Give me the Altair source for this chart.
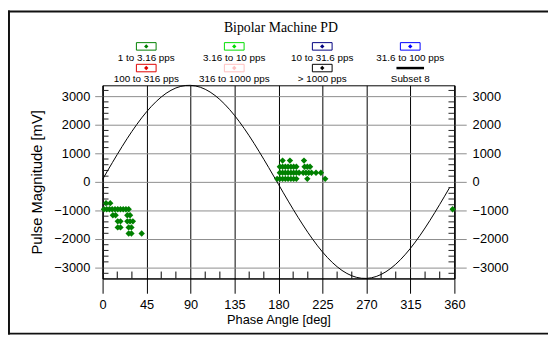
import altair as alt
import pandas as pd

# ---------------- data ----------------
title_text = ["Bipolar Machine PD"]

x_ticks = [0, 45, 90, 135, 180, 225, 270, 315, 360]
y_ticks = [-3000, -2000, -1000, 0, 1000, 2000, 3000]
x_minor = [15, 30, 60, 75, 105, 120, 150, 165, 195, 210, 240, 255, 285, 300, 330, 345]
y_minor = [-3200, -2800, -2600, -2400, -2200, -1800, -1600, -1400, -1200, -800, -600, -400, -200,
           200, 400, 600, 800, 1200, 1400, 1600, 1800, 2200, 2400, 2600, 2800, 3200]

# reference voltage curve
sine_phase = [0, 5, 10, 15, 20, 25, 30, 35, 40, 45, 50, 55, 60, 65, 70, 75, 80, 85,
              90, 95, 100, 105, 110, 115, 120, 125, 130, 135, 140, 145, 150, 155, 160, 165, 170, 175,
              180, 185, 190, 195, 200, 205, 210, 215, 220, 225, 230, 235, 240, 245, 250, 255, 260, 265,
              270, 275, 280, 285, 290, 295, 300, 305, 310, 315, 320, 325, 330, 335, 340, 345, 350, 355]
sine_mv = [88, 383, 674, 960, 1239, 1508, 1766, 2010, 2240, 2452, 2645, 2819, 2970, 3100, 3205, 3287, 3343, 3374,
           3379, 3358, 3312, 3241, 3145, 3025, 2882, 2717, 2531, 2327, 2104, 1866, 1613, 1348, 1072, 789, 500, 206,
           -88, -383, -674, -960, -1239, -1508, -1766, -2010, -2240, -2452, -2645, -2819, -2970, -3100, -3205, -3287, -3343, -3374,
           -3379, -3358, -3312, -3241, -3145, -3025, -2882, -2717, -2531, -2327, -2104, -1866, -1613, -1348, -1072, -789, -500, -206]

# PD pulses (1 to 3.16 pps)
pd_phase = [3.5, 7.8,
            1.4, 4.2, 7.0, 9.8, 12.7, 15.5, 18.3, 21.1, 23.9, 26.7,
            10.5, 13.3, 25.3, 28.1,
            15.5, 18.3, 25.3, 28.1, 31.0,
            15.5, 18.3, 26.7, 29.5,
            26.7, 29.5, 40.0,
            358.2,
            184.2, 191.7, 206.1,
            181.4, 184.2, 187.0, 189.8, 192.7, 195.5, 198.3, 206.7, 209.5, 212.3,
            181.4, 184.2, 187.0, 189.8, 192.7, 195.5, 198.3, 201.1, 205.3, 208.1, 210.9, 213.8, 218.4, 223.4,
            178.6, 181.4, 184.2, 187.0, 189.8, 192.7, 195.5, 198.3, 209.5, 227.8]
pd_mag = [-744, -744,
          -956, -956, -956, -956, -956, -956, -956, -956, -956, -956,
          -1169, -1169, -1169, -1169,
          -1381, -1381, -1381, -1381, -1381,
          -1594, -1594, -1594, -1594,
          -1806, -1806, -1806,
          -956,
          744, 744, 744,
          531, 531, 531, 531, 531, 531, 531, 531, 531, 531,
          319, 319, 319, 319, 319, 319, 319, 319, 319, 319, 319, 319, 319, 319,
          106, 106, 106, 106, 106, 106, 106, 106, 106, 106]

leg_labels = ["1 to 3.16 pps", "3.16 to 10 pps", "10 to 31.6 pps", "31.6 to 100 pps",
              "100 to 316 pps", "316 to 1000 pps", "> 1000 pps", "Subset 8"]
leg_colors = ["#008000", "#00dd00", "#000080", "#0000ff",
              "#e00000", "#ffc0c0", "#000000", "#000000"]

# ---------------- layout ----------------
W, H = 357, 196
FONT = "Liberation Sans"
x_scale = alt.Scale(domain=[0, 360], nice=False, zero=False)
y_scale = alt.Scale(domain=[-3380, 3380], nice=False, zero=False)

x_axis = alt.Axis(values=x_ticks, grid=True, gridColor="black", gridWidth=1,
                  tickSize=15, tickColor="black", domainColor="black", format="d",
                  labelPadding=5, title="Phase Angle [deg]", titlePadding=3,
                  labelFlush=False, labelOverlap=False)
left_axis = alt.Axis(values=y_ticks, grid=True, gridColor="#8c8c8c", gridWidth=1,
                     tickSize=8, tickColor="#8c8c8c", domainColor="black", format="d",
                     labelPadding=5, title="Pulse Magnitude [mV]", titlePadding=9,
                     titleFontSize=15, labelFlush=False, labelOverlap=False)
right_axis = alt.Axis(orient="right", values=y_ticks, grid=False, format="d",
                      tickSize=12, tickColor="#8c8c8c", domainColor="black",
                      labelPadding=6, title=None, labelFlush=False, labelOverlap=False)

pts = pd.DataFrame({"phase": pd_phase, "mag": pd_mag})
sine = pd.DataFrame({"phase": sine_phase, "mag": sine_mv})
ymin = pd.DataFrame({"v": y_minor})
xmin = pd.DataFrame({"p": x_minor})

leg = pd.DataFrame({"label": leg_labels, "color": leg_colors})
leg["i"] = range(len(leg))
leg["cx"] = 44.3 + (leg["i"] % 4) * 89.3
leg["sy"] = -39.5 + (leg["i"] // 4) * 22
leg["ly"] = -27.3 + (leg["i"] // 4) * 21
leg["x1"] = leg["cx"] - 10
leg["x2"] = leg["cx"] + 10
leg["y1"] = leg["sy"] - 3.8
leg["y2"] = leg["sy"] + 3.8
leg["lx1"] = leg["cx"] - 14
leg["lx2"] = leg["cx"] + 14
leg_sym = leg[leg["i"] < 7]
leg_line = leg[leg["i"] == 7]

left_minor = alt.Chart(ymin).mark_rule(color="#222222").encode(
    y=alt.Y("v:Q", scale=y_scale, axis=None),
    x=alt.value(0), x2=alt.value(6))
right_minor = alt.Chart(ymin).mark_rule(color="#222222").encode(
    y=alt.Y("v:Q", scale=y_scale, axis=right_axis),
    x=alt.value(W - 6), x2=alt.value(W))
bottom_minor = alt.Chart(xmin).mark_rule(color="black").encode(
    x=alt.X("p:Q", scale=x_scale, axis=x_axis),
    y=alt.value(H - 7), y2=alt.value(H))

sine_line = alt.Chart(sine).mark_line(color="black", strokeWidth=1).encode(
    x=alt.X("phase:Q", scale=x_scale, axis=x_axis),
    y=alt.Y("mag:Q", scale=y_scale, axis=None))

points = alt.Chart(pts).mark_point(shape="diamond", filled=True, size=42,
                                   color="#008000", opacity=1).encode(
    x=alt.X("phase:Q", scale=x_scale, axis=x_axis),
    y=alt.Y("mag:Q", scale=y_scale, axis=left_axis))

leg_box = alt.Chart(leg_sym).mark_rect(fill="white", strokeWidth=1).encode(
    x=alt.X("x1:Q", scale=None, axis=None), x2="x2:Q",
    y=alt.Y("y1:Q", scale=None, axis=None), y2="y2:Q",
    stroke=alt.Color("color:N", scale=None, legend=None))
leg_dot = alt.Chart(leg_sym).mark_point(shape="diamond", filled=True, size=20, opacity=1).encode(
    x=alt.X("cx:Q", scale=None, axis=None),
    y=alt.Y("sy:Q", scale=None, axis=None),
    color=alt.Color("color:N", scale=None, legend=None))
leg_ln = alt.Chart(leg_line).mark_rule(color="black", strokeWidth=2.5).encode(
    x=alt.X("lx1:Q", scale=None, axis=None), x2="lx2:Q",
    y=alt.Y("sy:Q", scale=None, axis=None))
leg_txt = alt.Chart(leg).mark_text(font=FONT, fontSize=10, color="black",
                                   align="center", baseline="middle").encode(
    x=alt.X("cx:Q", scale=None, axis=None),
    y=alt.Y("ly:Q", scale=None, axis=None),
    text="label:N")

title = alt.Chart(pd.DataFrame({"t": title_text})).mark_text(
    font="Liberation Serif", fontSize=14, color="black", align="center", baseline="middle").encode(
    x=alt.value(W / 2 + 2.5), y=alt.value(-58), text="t:N")

border_top = alt.Chart(pd.DataFrame({"t": title_text})).mark_rule(color="#111111", strokeWidth=2).encode(
    x=alt.value(-96), x2=alt.value(452), y=alt.value(-75))
border_bottom = alt.Chart(pd.DataFrame({"t": title_text})).mark_rule(color="#111111", strokeWidth=2).encode(
    x=alt.value(-96), x2=alt.value(452), y=alt.value(252))
border_left = alt.Chart(pd.DataFrame({"t": title_text})).mark_rule(color="#111111", strokeWidth=2).encode(
    x=alt.value(-95), y=alt.value(-76), y2=alt.value(253))

chart = alt.layer(
    bottom_minor, left_minor, right_minor, sine_line, points,
    leg_box, leg_dot, leg_ln, leg_txt, title,
    border_top, border_bottom, border_left
).resolve_scale(y="independent").properties(
    width=W, height=H,
    padding={"left": 96, "top": 76, "right": 95, "bottom": 59},
    autosize=alt.AutoSizeParams(type="none"),
    background="white",
).configure_view(
    stroke="black", strokeWidth=1
).configure_axis(
    labelFont=FONT, titleFont=FONT, labelFontSize=13, titleFontSize=13,
    titleFontWeight="normal", labelColor="black", titleColor="black"
)

chart.save("out.html", embed_options={"renderer": "svg", "actions": False})
